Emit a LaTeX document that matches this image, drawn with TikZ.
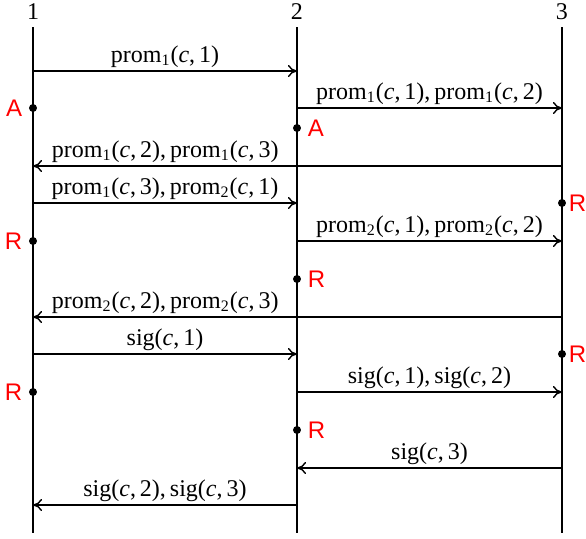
\documentclass[tikz,border=0pt]{standalone}
\usepackage{fontspec}
\setmainfont{Liberation Serif}
\newfontfamily\verdictfont{Liberation Sans}
\usetikzlibrary{arrows.meta,positioning}

\begin{document}
\begin{tikzpicture}[
  x=0.5pt,y=-0.5pt,
  font=\fontsize{12}{14}\selectfont,
  proc/.style={line width=0.8pt},
  msg/.style={-{To[length=4.5pt,width=6pt]},line width=0.7pt},
  lbl/.style={above,inner sep=1.5pt},
  ev/.style={circle,fill=black,inner sep=0pt,minimum size=4pt},
  verdict/.style={text=red,inner sep=1pt,font=\verdictfont\fontsize{12}{14}\selectfont}
]
\useasboundingbox (0,0) rectangle (586,538);
% processes
\node (n1) at (33,12) {1};
\node (n2) at (297,12) {2};
\node (n3) at (562,12) {3};
\coordinate (t1) at (33,27);  \coordinate (b1) at (33,533);
\coordinate (t2) at (297,27); \coordinate (b2) at (297,533);
\coordinate (t3) at (562,27); \coordinate (b3) at (562,533);
\draw[proc] (t1) -- (b1);
\draw[proc] (t2) -- (b2);
\draw[proc] (t3) -- (b3);
% message end points
\coordinate (m1a) at (33,71);   \coordinate (m1b) at (297,71);
\coordinate (m2a) at (297,108); \coordinate (m2b) at (562,108);
\coordinate (m3a) at (562,166); \coordinate (m3b) at (33,166);
\coordinate (m4a) at (33,203);  \coordinate (m4b) at (297,203);
\coordinate (m5a) at (297,241); \coordinate (m5b) at (562,241);
\coordinate (m6a) at (562,317); \coordinate (m6b) at (33,317);
\coordinate (m7a) at (33,354);  \coordinate (m7b) at (297,354);
\coordinate (m8a) at (297,392); \coordinate (m8b) at (562,392);
\coordinate (m9a) at (562,468); \coordinate (m9b) at (297,468);
\coordinate (m10a) at (297,505); \coordinate (m10b) at (33,505);
% messages
\draw[msg] (m1a) -- (m1b) node[lbl,midway] {prom\textsubscript{1}(\textit{c},\,1)};
\draw[msg] (m2a) -- (m2b) node[lbl,midway] {prom\textsubscript{1}(\textit{c},\,1),\,prom\textsubscript{1}(\textit{c},\,2)};
\draw[msg] (m3a) -- (m3b) node[lbl,pos=0.75] {prom\textsubscript{1}(\textit{c},\,2),\,prom\textsubscript{1}(\textit{c},\,3)};
\draw[msg] (m4a) -- (m4b) node[lbl,midway] {prom\textsubscript{1}(\textit{c},\,3),\,prom\textsubscript{2}(\textit{c},\,1)};
\draw[msg] (m5a) -- (m5b) node[lbl,midway] {prom\textsubscript{2}(\textit{c},\,1),\,prom\textsubscript{2}(\textit{c},\,2)};
\draw[msg] (m6a) -- (m6b) node[lbl,pos=0.75] {prom\textsubscript{2}(\textit{c},\,2),\,prom\textsubscript{2}(\textit{c},\,3)};
\draw[msg] (m7a) -- (m7b) node[lbl,midway] {sig(\textit{c},\,1)};
\draw[msg] (m8a) -- (m8b) node[lbl,midway] {sig(\textit{c},\,1),\,sig(\textit{c},\,2)};
\draw[msg] (m9a) -- (m9b) node[lbl,midway] {sig(\textit{c},\,3)};
\draw[msg] (m10a) -- (m10b) node[lbl,midway] {sig(\textit{c},\,2),\,sig(\textit{c},\,3)};
% decisions
\node[ev] (d1) at (33,108) {};
\node[verdict,left=2pt of d1] {A};
\node[ev] (d2) at (297,128) {};
\node[verdict,right=2pt of d2] {A};
\node[ev] (d3) at (562,203) {};
\node[verdict,inner sep=0.5pt,right=0.5pt of d3] {R};
\node[ev] (d4) at (33,241) {};
\node[verdict,left=2pt of d4] {R};
\node[ev] (d5) at (297,279) {};
\node[verdict,right=2pt of d5] {R};
\node[ev] (d6) at (562,354) {};
\node[verdict,inner sep=0.5pt,right=0.5pt of d6] {R};
\node[ev] (d7) at (33,392) {};
\node[verdict,left=2pt of d7] {R};
\node[ev] (d8) at (297,430) {};
\node[verdict,right=2pt of d8] {R};
\end{tikzpicture}
\end{document}
